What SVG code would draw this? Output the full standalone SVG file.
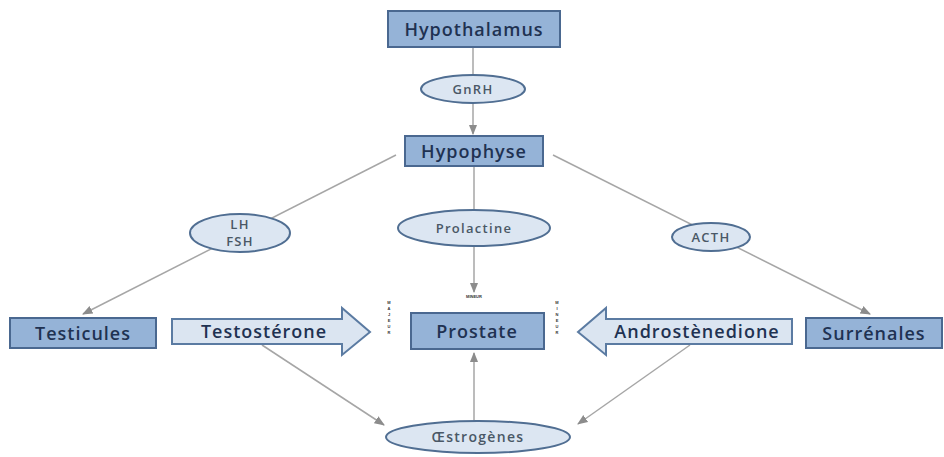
<svg xmlns="http://www.w3.org/2000/svg" width="944" height="457" viewBox="0 0 944 457">
<defs>
<style>
.box{fill:#95b3d7;stroke:#4a6890;stroke-width:2}
.ell{fill:#dce6f2;stroke:#506e92;stroke-width:2}
.big{fill:#dbe5f1;stroke:#5b7ba2;stroke-width:2}
.ln{stroke:#a6a6a6;stroke-width:1.5;fill:none}
.t{font-family:"Open Sans","Liberation Sans",sans-serif;text-anchor:middle;font-weight:600}
.bt{font-size:18px;letter-spacing:1px;fill:#1f3252}
.et{font-size:13px;letter-spacing:1.3px;fill:#4a5866}
.tiny{font-family:"Liberation Sans",sans-serif;font-size:4px;font-weight:bold;fill:#333;text-anchor:middle}
</style>
<marker id="ah" viewBox="0 0 10 10" refX="9" refY="5" markerWidth="7" markerHeight="7" orient="auto-start-reverse">
<path d="M0,1 L10,5 L0,9 z" fill="#8c8c8c"/>
</marker>
</defs>
<rect width="944" height="457" fill="#ffffff"/>
<g id="connectors">
<line class="ln" x1="473" y1="47" x2="473" y2="134" marker-end="url(#ah)"/>
<line class="ln" x1="396" y1="155" x2="83" y2="314" marker-end="url(#ah)"/>
<line class="ln" x1="474" y1="166" x2="474" y2="292" marker-end="url(#ah)"/>
<line class="ln" x1="553" y1="155" x2="870" y2="314" marker-end="url(#ah)"/>
<line class="ln" x1="262" y1="345" x2="384" y2="425" marker-end="url(#ah)"/>
<line class="ln" x1="690" y1="345" x2="578" y2="424" marker-end="url(#ah)"/>
<line class="ln" x1="474" y1="421" x2="474" y2="353" marker-end="url(#ah)"/>
</g>
<g id="hypothalamus">
<rect class="box" x="388" y="11" width="172" height="36"/>
<text class="t bt" x="474" y="36">Hypothalamus</text>
</g>
<g id="gnrh">
<ellipse class="ell" cx="473" cy="89" rx="52" ry="14"/>
<text class="t et" x="473" y="94">GnRH</text>
</g>
<g id="hypophyse">
<rect class="box" x="405" y="136" width="138" height="30"/>
<text class="t bt" x="474" y="158">Hypophyse</text>
</g>
<g id="lhfsh">
<ellipse class="ell" cx="240" cy="233" rx="50" ry="19"/>
<text class="t et" x="240" y="229">LH</text>
<text class="t et" x="240" y="246">FSH</text>
</g>
<g id="prolactine">
<ellipse class="ell" cx="474" cy="228" rx="76" ry="18"/>
<text class="t et" x="474" y="233">Prolactine</text>
</g>
<g id="acth">
<ellipse class="ell" cx="711" cy="237" rx="39" ry="14"/>
<text class="t et" x="711" y="242">ACTH</text>
</g>
<g id="testicules">
<rect class="box" x="10" y="318" width="146" height="30"/>
<text class="t bt" x="83" y="340">Testicules</text>
</g>
<g id="testosterone">
<path class="big" d="M172,319 H342 V308 L370,332 L342,355 V344 H172 Z"/>
<text class="t bt" x="264" y="338">Testostérone</text>
</g>
<g id="prostate">
<rect class="box" x="411" y="313" width="133" height="36"/>
<text class="t bt" x="477" y="338">Prostate</text>
<text class="tiny" x="474" y="298">MINEUR</text>
<text class="tiny" x="389" y="304">M</text>
<text class="tiny" x="389" y="310">A</text>
<text class="tiny" x="389" y="316">J</text>
<text class="tiny" x="389" y="322">E</text>
<text class="tiny" x="389" y="328">U</text>
<text class="tiny" x="389" y="334">R</text>
<text class="tiny" x="557" y="304">M</text>
<text class="tiny" x="557" y="310">I</text>
<text class="tiny" x="557" y="316">N</text>
<text class="tiny" x="557" y="322">E</text>
<text class="tiny" x="557" y="328">U</text>
<text class="tiny" x="557" y="334">R</text>
</g>
<g id="androstenedione">
<path class="big" d="M792,319 H606 V308 L578,332 L606,355 V344 H792 Z"/>
<text class="t bt" x="697" y="338">Androstènedione</text>
</g>
<g id="surrenales">
<rect class="box" x="806" y="318" width="136" height="30"/>
<text class="t bt" x="874" y="340">Surrénales</text>
</g>
<g id="oestrogenes">
<ellipse class="ell" cx="478" cy="437" rx="92" ry="16"/>
<text class="t et" x="478" y="442" style="font-size:14px">Œstrogènes</text>
</g>
</svg>
